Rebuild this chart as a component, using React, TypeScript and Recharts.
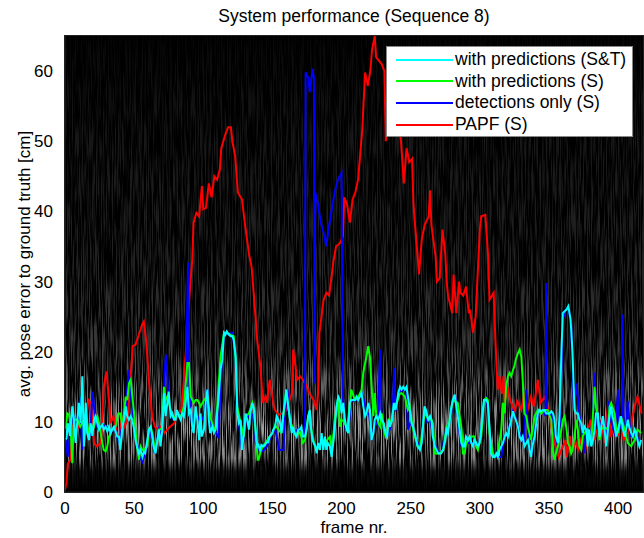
import { LineChart, Line, XAxis, YAxis, ReferenceArea } from 'recharts'

const frameTicks = [0, 50, 100, 150, 200, 250, 300, 350, 400]
const errorTicks = [0, 10, 20, 30, 40, 50, 60]

// [frame nr., avg. pose error in cm]
const papf: [number, number][] = [
  [0, 0.3], [1, 1.2], [2, 4], [4, 4.6], [5, 9.3], [7, 10.3], [9, 8.9], [10, 9.8], [12, 10.2], [15, 9.8],
  [17, 13.1], [19, 12.6], [21, 7], [23, 6.5], [26, 7], [28, 15], [30, 17.2], [32, 12.7], [33, 9.8], [35, 10.8],
  [37, 8.9], [39, 7], [41, 10.8], [43, 9.3], [45, 10.2], [47, 15], [49, 20.8], [51, 21], [53, 22.2], [56, 24],
  [57, 24.3], [59, 21], [61, 15], [63, 10.8], [65, 9.3], [67, 8.9], [69, 9.3], [72, 8.4], [74, 8.9], [76, 9.3],
  [79, 9.8], [81, 10.8], [84, 11.7], [86, 16], [87, 18.9], [88, 21.7], [90, 28], [92, 33], [93, 38.4], [95, 39.8],
  [97, 39.3], [99, 43.6], [100, 40.3], [102, 40.5], [104, 44], [106, 42], [108, 45], [110, 44.5], [112, 46], [113, 49],
  [116, 51], [118, 52], [120, 52], [121, 50], [123, 48], [125, 42.7], [128, 41.7], [130, 38.4], [133, 34], [135, 32],
  [137, 27], [139, 21.7], [141, 18.4], [142, 16], [143, 12.7], [145, 13.6], [146, 12.7], [148, 16], [150, 13.6], [151, 12.2],
  [152, 11.7], [154, 11], [157, 11.2], [159, 11.2], [161, 12.2], [164, 14], [165, 20.3], [168, 16], [170, 16.5], [172, 16],
  [175, 15], [177, 14], [180, 13], [182, 11.7], [183, 14.3], [184, 22.7], [187, 27.4], [189, 28.4], [191, 28], [194, 32.7],
  [196, 35], [199, 35.5], [201, 36.5], [202, 42], [204, 41], [206, 38.4], [208, 41.7], [210, 42.7], [212, 44.6], [215, 51.7],
  [217, 59.8], [219, 57.9], [221, 60.3], [222, 63], [224, 65], [225, 62], [227, 61.5], [229, 61], [231, 60], [232, 50],
  [236, 56], [240, 54], [243, 50], [245, 44], [247, 49], [249, 47], [251, 47.5], [252, 41], [254, 36], [256, 31],
  [258, 36], [260, 38], [263, 39.3], [264, 43], [265, 38], [268, 33.6], [269, 30], [271, 30.5], [273, 37.4], [275, 34],
  [276, 30], [277, 28], [280, 25.5], [281, 31], [283, 25.5], [285, 30], [286, 28.4], [288, 28], [290, 29.3], [292, 25.5],
  [293, 26], [295, 22.7], [297, 25], [298, 29.3], [300, 37.4], [301, 39.3], [304, 39.5], [306, 33.6], [307, 27.4], [310, 28.4],
  [311, 23], [312, 18.4], [313, 14.6], [314, 16.5], [316, 14], [317, 16.5], [318, 12.7], [320, 15], [322, 13], [324, 12.2],
  [325, 11.2], [327, 13], [330, 11.7], [332, 14], [334, 11.2], [337, 13.6], [339, 12.2], [342, 16], [344, 12.7], [347, 13.6],
  [349, 12.2], [352, 8.9], [354, 7], [357, 5], [359, 6], [362, 7.4], [363, 5], [365, 8], [367, 5.7], [369, 7.4],
  [371, 6], [373, 7.4], [376, 5.5], [378, 8.4], [380, 10.3], [383, 7.4], [385, 8.9], [388, 10.3], [390, 7], [393, 13],
  [395, 7.8], [397, 10.3], [400, 8], [402, 10.3], [404, 7.4], [407, 8.4], [409, 9.3], [412, 12.2], [414, 13.6], [417, 11.2],
]

const detectionsOnly: [number, number][] = [
  [0.5, 7.5], [2, 5], [4, 9], [6, 11], [8, 8], [11, 13.5], [12.5, 6], [14, 11], [16, 9], [18, 8],
  [20, 14.3], [22, 10], [24, 9], [27, 9.6], [30, 9.3], [33, 8.5], [36, 9], [39, 7], [41, 9], [44, 12],
  [46, 17.4], [48, 13], [50, 10], [52, 7], [54, 5], [56, 4.3], [58, 5.5], [61, 8.9], [63, 7.5], [65, 5.5],
  [68, 9], [70, 8], [72, 17], [73, 19.6], [75, 13], [78, 10.5], [81, 11], [84, 11], [87, 12], [89, 32.7],
  [90, 15], [92, 9], [95, 11], [98, 10], [101, 11], [103, 14.6], [106, 9], [109, 8.5], [111, 7.7], [113, 17],
  [115, 22.7], [118, 22.5], [121, 22.7], [123, 20], [125, 11], [128, 6], [131, 10.5], [134, 11], [136, 11], [138, 7],
  [140, 6], [143, 5.8], [146, 6.5], [149, 8], [152, 9], [155, 6], [158, 6], [160, 14], [161, 14.3], [163, 9.5],
  [166, 8.5], [169, 9], [172, 8.5], [173.5, 8], [174, 59.8], [176, 59], [177, 57], [179, 60.3], [180, 59], [180.5, 15.5],
  [181, 42.7], [183, 41], [185, 38.4], [187, 37], [189, 35], [190.5, 37.4], [193, 40.3], [195, 42.7], [197.5, 44.6], [200, 45.5],
  [201, 13.6], [203, 9], [205, 9], [207, 13], [210, 13], [213, 13.5], [215, 14], [218, 11.5], [220, 11], [222, 7.4],
  [224, 10], [226, 9.5], [228, 20.3], [229, 9.5], [231, 9], [233, 8], [235, 9], [237, 11], [238, 17.7], [239, 11.5],
  [241, 14], [243, 14.5], [245, 14.5], [247, 15], [248, 8.9], [250, 10], [252, 9], [254, 7.5], [256, 6.5], [258, 7],
  [260, 12.2], [262, 10], [264, 10.5], [265, 9.3], [267, 7], [269, 6], [271, 5.5], [273, 6], [275, 8.5], [277, 9],
  [280, 12], [282, 13.9], [284, 11], [286, 7], [288, 6], [290, 7], [293, 7], [296, 7], [299, 6.5], [301, 8.5],
  [303, 13], [305, 13.5], [307, 9], [309, 5.5], [312, 5], [315.5, 5], [318, 8], [320, 8], [322, 10], [324, 11.5],
  [326, 10.5], [328, 9], [330, 7.5], [332, 7], [333.6, 14.6], [335, 7.5], [337, 5], [340, 9], [342, 11], [344, 11.5],
  [346, 11.5], [347.5, 10.8], [348, 29.8], [348.5, 11.2], [350, 11], [352, 11], [354, 9], [356.5, 6.5], [358, 10], [360, 24.6],
  [362, 26], [364, 26.3], [366, 24], [368, 12], [370, 15.5], [372, 11], [374, 8.5], [375.6, 5.5], [377, 8.8], [379, 9],
  [381, 7], [383, 17], [384, 11.5], [386, 8], [388, 10], [390, 9.5], [392, 8], [393, 13], [395, 10], [398, 8],
  [400, 14.6], [401, 9], [403, 10], [403.2, 25.3], [404, 9], [406, 9.5], [407, 13], [409, 8], [411, 8], [413, 8.5],
  [415, 7], [417, 7],
]

const withPredS: [number, number][] = [
  [0.5, 9], [1.7, 11.2], [3, 11], [4, 9.3], [5.3, 4.1], [6, 8.4], [6.5, 10.3], [9, 10.3], [11, 9.3], [13, 10],
  [15, 11], [17, 8.5], [19, 9.5], [21, 9.3], [22, 10.3], [23.4, 10.8], [24.6, 9.8], [25.8, 8.4], [27, 7], [28, 6],
  [29.4, 5.8], [30.6, 6.5], [31.8, 7.9], [33, 8.4], [34, 8.9], [35.4, 8.9], [37, 9.5], [38.5, 11.2], [40, 11.2], [41.5, 9.3],
  [44, 13.6], [45, 13.1], [46.3, 15.5], [47.5, 16], [49, 13.1], [50, 11.2], [51, 8.9], [52, 6.5], [53.5, 4.6], [54.7, 6.5],
  [56, 6], [57, 6], [59.5, 6.5], [60.7, 8.9], [62, 9.3], [63, 8.4], [65, 6], [67, 7.5], [68, 8.9], [70, 9],
  [71.6, 15], [72.8, 13.1], [74, 13.6], [76.4, 11.7], [78.8, 10.5], [81, 11.2], [84, 10.8], [86, 12.2], [88.5, 18.4], [89.7, 18.4],
  [91, 13.6], [93, 12.7], [94.5, 13.1], [95.7, 13.1], [97, 12.7], [98, 12.2], [100.5, 13.1], [103, 13.6], [105, 10.8], [107.7, 8.9],
  [109, 9.3], [110, 11.7], [111, 15], [112.5, 19.3], [115, 22.7], [117, 22.7], [119.8, 22.4], [122, 22.2], [123.4, 18.9], [124.6, 12.2],
  [127, 9.8], [129.4, 7.9], [130.6, 10.8], [133, 11.2], [135.5, 12.7], [136.7, 11.7], [138, 8], [139, 5.5], [139.3, 4.6], [140, 4.6],
  [141.7, 5.9], [143, 6.5], [145, 7], [148, 7.9], [150, 8.4], [152, 9.5], [154, 9], [156, 8.5], [158, 11], [160, 14.6],
  [161.5, 12], [163, 10], [165, 9], [167, 8], [170, 8.5], [172, 7], [173.6, 7.4], [175.9, 10.8], [177, 11.5], [178, 9],
  [180, 7], [182, 6], [184, 6.5], [186, 7.5], [188, 7], [190, 7.5], [191.6, 7.9], [193, 6], [195, 10], [196.4, 12],
  [197.6, 13.6], [198.8, 9.3], [200, 10.3], [202, 10], [204, 9], [206, 12.5], [207, 14.6], [209.7, 13.1], [212, 13.5], [214.5, 14.6],
  [215.7, 17], [217, 18.4], [218, 19.3], [219.3, 20.8], [220.5, 19.3], [221.7, 15], [223, 10.8], [224, 14.1], [225, 11.2], [226.6, 9.8],
  [228, 9.3], [229, 11.2], [230.6, 8.9], [231.8, 7.9], [233, 8.4], [234, 10.3], [236, 10], [238, 12.5], [240, 12.7], [242, 14],
  [243.4, 14.1], [245.8, 13.6], [248, 11.7], [249.4, 12.2], [250.6, 10.3], [251.8, 8.9], [253, 7.9], [254, 7.4], [255, 6.5], [257, 6.5],
  [259, 9.5], [260, 11.5], [262.7, 10.3], [265, 10.3], [266, 9.8], [267.5, 5.5], [268.7, 5.5], [271, 5.5], [273.5, 6], [275.9, 9.3],
  [277, 9], [280.5, 13.1], [284, 12.7], [286.6, 9.3], [287.8, 5.5], [289, 5.5], [290, 6.8], [291.4, 7.4], [293.8, 7.9], [296.2, 7.9],
  [297.4, 6.5], [298.6, 6], [299.8, 7], [301, 7.9], [302, 10.3], [303, 13.1], [304.6, 13.4], [305.8, 13.1], [307, 8.4], [309.5, 5.5],
  [310.7, 5], [313, 5.5], [315.5, 8.9], [316.7, 12.7], [318, 11.2], [319, 15], [320.3, 16.5], [321.5, 17], [322.7, 16.5], [324, 17.4],
  [325, 17.9], [326, 18.9], [327.6, 19.8], [328.8, 20.3], [330, 19.3], [331, 16], [332.3, 11.2], [333.6, 10.8], [334.8, 9.3], [337, 7.4],
  [339.6, 10.8], [342, 11.7], [344.4, 11.2], [346.8, 11.7], [349, 11.7], [350.5, 10.8], [351.7, 10.3], [353, 5.5], [354, 4.6], [355, 5.5],
  [356.5, 6.5], [359, 8.9], [360, 10.3], [361.3, 10.8], [362.5, 9.3], [363.7, 7], [365, 6.5], [366, 5.5], [367, 6], [368.5, 7.9],
  [369.7, 10.3], [370.9, 8.9], [372, 6.5], [373.3, 6], [374.5, 8], [375.7, 8.4], [378, 8.9], [380.6, 7], [383, 15], [384, 12.2],
  [385.4, 10.3], [386.6, 7.4], [387.8, 8.9], [390, 9.3], [392.6, 8.9], [393.8, 12.2], [395, 12.7], [397.5, 11.2], [398.6, 9.3], [400, 8.4],
  [402, 10.8], [404.7, 8.9], [407, 7], [409.5, 6.5], [410.7, 7], [412, 7.4], [414, 8.9], [416.6, 8.4],
]

const withPredST: [number, number][] = [
  [0.5, 7.5], [1.2, 7.7], [2, 9.8], [3.6, 8], [5.3, 12.2], [6.5, 10.3], [7.7, 7], [9, 10.3], [10, 12.7], [11.3, 9.8],
  [12.5, 16.5], [13.7, 6.5], [15, 12.7], [16, 8.4], [17.4, 7.4], [18.5, 9.8], [19.8, 8], [21, 10.3], [22, 10.8], [23.4, 9.8],
  [24.6, 8.9], [25.8, 9.3], [27, 9.6], [28, 8.9], [29.4, 9.3], [30.6, 8.6], [31.8, 9.3], [33, 8.4], [34, 8.9], [35.4, 9.3],
  [36.6, 8.6], [37.8, 7.9], [39, 7.9], [40, 6], [41.5, 9.3], [42.7, 10.3], [44, 12.2], [45, 10.8], [46.3, 10.3], [47.5, 10.8],
  [48.7, 10.3], [50, 8.9], [51, 7.4], [52, 6.5], [53.5, 5.5], [54.7, 6], [56, 5], [57, 5.7], [58, 5.5], [59.5, 7.4],
  [60.7, 8.9], [62, 9.3], [63, 8], [64, 6.5], [65.5, 5.5], [66.8, 7.4], [68, 8.9], [69, 6.5], [70.4, 8.9], [71.6, 14.1],
  [72.8, 10.8], [74, 12.7], [75, 14.3], [76.4, 10.8], [77.6, 11.2], [78.8, 10.3], [80, 10.3], [81, 11.7], [82.4, 10.8], [83.6, 10.3],
  [84.8, 11.2], [86, 10.8], [87, 12.2], [88.5, 15], [89.7, 11.2], [91, 11.7], [92, 9.3], [93, 8.4], [94.5, 12.2], [95.7, 10.3],
  [97, 7.4], [98, 11.2], [99, 7.9], [100.5, 8.9], [101.7, 12.7], [103, 14.6], [104, 10.3], [105, 8.4], [106.5, 9.3], [107.7, 8.4],
  [109, 8.9], [110, 11.2], [111, 13.1], [112.5, 17.4], [113.8, 18.9], [115, 22.7], [116, 22.4], [117, 22.9], [118.6, 22.4], [119.8, 22.2],
  [121, 22.2], [122, 21.7], [123.4, 19.3], [124.6, 11.2], [125.8, 9.8], [127, 10.3], [128, 6], [129.4, 8.4], [130.6, 11.2], [131.8, 10.3],
  [133, 8.9], [134, 11.2], [135.5, 12.7], [136.7, 11.7], [137.9, 8.9], [139, 6.5], [139.8, 6.7], [141, 6], [142, 6.7], [143.4, 6.5],
  [144.6, 6.7], [145.8, 7.1], [147, 7.1], [148, 7.9], [149.9, 8.4], [150.6, 8.9], [152, 9.3], [153, 10.8], [154.3, 10.3], [155.5, 9.8],
  [156.7, 8.4], [157.9, 11.2], [159, 12.7], [160, 14.6], [161.5, 12.2], [162.7, 10.3], [164, 8.4], [165, 9.3], [166, 8.4], [167.5, 7.9],
  [168.7, 8.9], [170, 8.9], [171, 9.3], [172, 7.9], [173.6, 7.9], [174.7, 8.9], [175.9, 10.8], [177, 11.7], [178, 8.9], [179, 7.4],
  [181, 6.5], [182, 5.5], [183, 7], [184.4, 6], [185.6, 8.4], [186.8, 6], [188, 7.9], [189, 6], [190, 7], [191.6, 6.5],
  [192.8, 5], [194, 7], [195, 8.9], [196.4, 12.2], [197.6, 13.6], [198.8, 13.1], [200, 11.2], [201.2, 12.7], [202.4, 10.3], [203.6, 8.9],
  [204.8, 8.4], [206, 12.7], [207, 13.1], [208.5, 13.1], [209.7, 13.1], [210.9, 13.6], [212, 13.1], [213.3, 13.6], [214.5, 14.1], [215.7, 12.2],
  [217, 10.8], [218, 11.2], [219.3, 12.7], [220.5, 11.7], [221.7, 7.4], [223, 8.4], [224, 10.3], [225, 10.8], [226.6, 10.3], [228, 11.2],
  [229, 10.3], [230.6, 9.8], [231.8, 8.4], [233, 7.9], [234, 10.3], [235, 9.3], [236.6, 10.3], [237.8, 12.7], [239, 11.7], [240, 12.7],
  [241, 14.1], [242.3, 15], [243.4, 14.6], [244.6, 15], [245.8, 14.6], [247, 15], [248, 13.6], [249.4, 11.7], [250.6, 9.8], [251.8, 9.3],
  [253, 8.4], [254, 7.4], [255, 6.5], [256.7, 6], [258, 7], [259, 9.8], [260, 12.2], [261, 11.7], [262.7, 10.3], [264, 10.8],
  [265, 10.3], [266, 7.9], [267.5, 6.5], [268.7, 6], [270, 5.5], [271, 5.5], [272, 5.5], [273.5, 6], [274.7, 7], [275.9, 8.9],
  [277, 8.4], [278, 9.8], [279, 11.7], [280.5, 13.1], [281.8, 13.9], [283, 12.2], [284, 10.8], [285.4, 8.9], [286.6, 7], [287.8, 6.5],
  [289, 6.5], [290, 7.9], [291.4, 7.4], [292.6, 7.9], [293.8, 7], [295, 6.5], [296.2, 7.4], [297.4, 7], [298.6, 6.5], [299.8, 7],
  [301, 8.9], [301.9, 11.2], [303, 13.1], [304.6, 13.1], [305.8, 12.7], [307, 9.3], [308, 5.5], [309.5, 5], [310.7, 5], [312, 5.5],
  [313, 5], [314.3, 6], [315.5, 6.5], [316.7, 7], [318, 7.9], [319, 8.4], [320.3, 7.9], [321.5, 9.3], [322.7, 10.3], [324, 11.5],
  [325, 10.8], [326, 10.3], [327.6, 9.3], [328.8, 7.9], [330, 7.4], [331, 7.9], [332.3, 6.5], [333.6, 7], [334.8, 7.4], [336, 6],
  [337, 5], [338, 6.5], [339.6, 7.9], [340.8, 9.8], [342, 11.2], [343, 11.7], [344.4, 11.5], [345.6, 11.7], [346.8, 11.7], [348, 11.2],
  [349, 11.2], [350.5, 11.2], [351.7, 11.5], [353, 11.2], [354, 10.3], [355, 7.9], [356.5, 7], [357.7, 11.2], [359, 19.8], [360, 25.5],
  [361.5, 25.8], [362.7, 26], [364, 26.5], [365.6, 24.6], [367, 20], [368.5, 11.7], [369.7, 11.2], [370.9, 11.2], [372, 10.3], [373.3, 9.8],
  [374.5, 8.4], [375.7, 9.3], [377, 8.9], [378, 6.5], [379, 8.9], [380.6, 6.5], [381.8, 7.4], [383, 8.9], [384, 11.2], [385.4, 11.2],
  [386.6, 7.9], [387.8, 9.3], [389, 10.8], [390, 9.3], [391.4, 6.5], [392.6, 8.9], [393.8, 10.8], [395, 12.2], [396, 10.8], [397.5, 9.3],
  [398.6, 7.9], [399.9, 8.9], [401, 9.8], [402, 10.8], [403.5, 8.9], [404.7, 7.9], [405.8, 8.9], [407, 10.3], [408, 9.3], [409.5, 8.4],
  [410.7, 7.9], [412, 8.9], [413, 8.4], [414, 7.4], [415.4, 6.5], [416.6, 7.4],
]

const font = '"Liberation Sans", Arial, Helvetica, sans-serif'

// drawing order: red first, cyan on top
const series = [
  { name: 'PAPF (S)', color: '#ff0000', points: papf },
  { name: 'detections only (S)', color: '#0000ff', points: detectionsOnly },
  { name: 'with predictions (S)', color: '#00ff00', points: withPredS },
  { name: 'with predictions (S&T)', color: '#00ffff', points: withPredST },
]

const toRows = (pts: [number, number][]) => pts.map(([f, v]) => ({ f, v }))

function YLabel({ viewBox }: any) {
  const cx = viewBox.x + 23
  const cy = viewBox.y + viewBox.height / 2
  return (
    <text x={cx} y={cy} transform={`rotate(-90 ${cx} ${cy})`} textAnchor="middle"
      dominantBaseline="central" fontSize={17} fill="#000" fontFamily={font}>
      avg. pose error to ground truth [cm]
    </text>
  )
}

export default function App() {
  return (
    <div style={{ position: 'absolute', left: 0, top: 0, width: 644, height: 538, background: '#fff', fontFamily: font }}>
      <div style={{ position: 'absolute', left: 65, width: 578, top: 6, lineHeight: '20px', fontSize: 17.5, textAlign: 'center', color: '#000' }}>
        System performance (Sequence 8)
      </div>
      <LineChart width={644} height={538} margin={{ top: 36, right: 1, bottom: 0, left: 1 }}>
        <defs>
          <linearGradient id="glow" x1="0" y1="0" x2="0" y2="1">
            <stop offset="0" stopColor="#020202" />
            <stop offset="0.2" stopColor="#070707" />
            <stop offset="0.5" stopColor="#0b0b0b" />
            <stop offset="0.68" stopColor="#121212" />
            <stop offset="0.78" stopColor="#222222" />
            <stop offset="0.86" stopColor="#323232" />
            <stop offset="0.925" stopColor="#2a2a2a" />
            <stop offset="0.955" stopColor="#080808" />
            <stop offset="1" stopColor="#000" />
          </linearGradient>
          <filter id="grain" x="0" y="0" width="1" height="1" colorInterpolationFilters="sRGB">
            <feTurbulence type="fractalNoise" baseFrequency="0.8 0.025" numOctaves={2} seed={3} result="n" />
            <feColorMatrix in="n" type="matrix" result="g"
              values="4 0 0 0 -1.7  4 0 0 0 -1.7  4 0 0 0 -1.7  0 0 0 0 1" />
            <feComposite in="SourceGraphic" in2="g" operator="arithmetic" k1={3.2} k2={0} k3={0} k4={0} />
          </filter>
        </defs>
        <XAxis type="number" dataKey="f" domain={[0, 418]} ticks={frameTicks} allowDataOverflow
          height={46} tickLine={false} tickSize={0} tickMargin={10} axisLine={{ stroke: '#222' }}
          tick={{ fontSize: 17, fill: '#000', fontFamily: font }}
          label={{ value: 'frame nr.', position: 'insideBottom', offset: 5, fontSize: 17, fill: '#000', fontFamily: font }} />
        <YAxis type="number" domain={[0, 65]} ticks={errorTicks} allowDataOverflow width={64}
          tickLine={false} tickSize={0} tickMargin={12} axisLine={{ stroke: '#222' }}
          tick={{ fontSize: 17, fill: '#000', fontFamily: font }}
          label={<YLabel />} />
        <ReferenceArea x1={0} x2={418} y1={0} y2={65} fill="#000" fillOpacity={1} stroke="#222" strokeWidth={2} />
        <ReferenceArea x1={0} x2={418} y1={0} y2={65} fill="url(#glow)" fillOpacity={1} filter="url(#grain)" />
        {series.map(s => (
          <Line key={s.name} data={toRows(s.points)} dataKey="v" type="linear" stroke={s.color}
            strokeWidth={2} dot={false} isAnimationActive={false} legendType="none" />
        ))}
      </LineChart>
      <div style={{ position: 'absolute', left: 386, top: 46, width: 245, height: 89, background: '#fff', border: '1px solid #888' }}>
        {[...series].reverse().map((s, i) => (
          <div key={s.name} style={{ position: 'absolute', left: 9, top: 2 + i * 21.7, height: 21, display: 'flex', alignItems: 'center' }}>
            <div style={{ width: 57, height: 2, background: s.color }} />
            <span style={{ marginLeft: 2, fontSize: 17.5, color: '#000', whiteSpace: 'nowrap' }}>{s.name}</span>
          </div>
        ))}
      </div>
    </div>
  )
}
